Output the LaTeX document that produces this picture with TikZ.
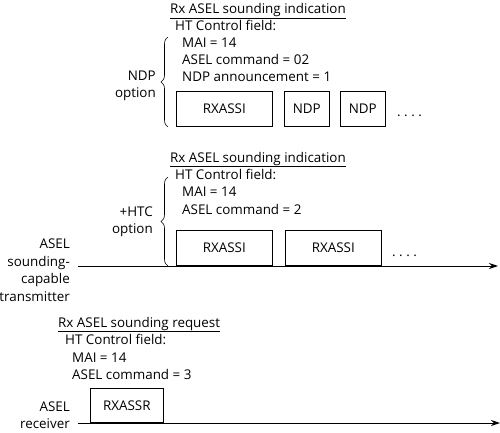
\documentclass[tikz,border=0pt]{standalone}
\usepackage{fontspec}
\setmainfont{Open Sans}
\usetikzlibrary{decorations.pathreplacing,arrows.meta}

\begin{document}
\begin{tikzpicture}[x=1pt,y=-1pt,font=\fontsize{13.4}{17.5}\selectfont,
  frame/.style={draw,line width=0.6pt,minimum height=35pt,inner sep=0pt,anchor=south west},
  txt/.style={anchor=base west,inner sep=0pt},
  lbl/.style={align=right,anchor=east,inner sep=0pt},
  curly/.style={decorate,line width=0.6pt,decoration={brace,amplitude=7pt}},
  axis/.style={line width=1pt,-{Stealth[length=9pt,width=6pt]}}]
			%%%%% START %%%%%
			\useasboundingbox (0,0) rectangle (500,433);
			
			% NDP option
			\node[txt] (ndpTitle) at (170, 14) {\underline{Rx ASEL sounding indication}};
			\node[txt] (ndpHt) at (175, 31) {HT Control field:};
			\node[txt] (ndpMai) at (182, 48) {MAI = 14};
			\node[txt] (ndpCmd) at (182, 65) {ASEL command = 02};
			\node[txt] (ndpAnn) at (182, 82) {NDP announcement = 1};
			\draw[curly] (168, 127) -- (168, 37);
			\node[lbl] (ndpOpt) at (156, 86) {NDP\\option};
			
			\node[frame, minimum width=96pt] (ndpSsi) at (176, 127) {RXASSI};
			\node[frame, minimum width=45pt] (ndpA) at (284, 127) {NDP};
			\node[frame, minimum width=45pt] (ndpB) at (340, 127) {NDP};
			\node[txt] (ndpDots) at (397, 117) {.\ .\ .\ .};
			
			% +HTC option
			\node[txt] (htcTitle) at (170, 162) {\underline{Rx ASEL sounding indication}};
			\node[txt] (htcHt) at (175, 179) {HT Control field:};
			\node[txt] (htcMai) at (182, 196) {MAI = 14};
			\node[txt] (htcCmd) at (182, 214) {ASEL command = 2};
			\draw[curly] (168, 266) -- (168, 177);
			\node[lbl] (htcOpt) at (153, 222) {+HTC\\option};
			
			\node[frame, minimum width=96pt] (htcSsiA) at (176, 266) {RXASSI};
			\node[frame, minimum width=96pt] (htcSsiB) at (285, 266) {RXASSI};
			\node[txt] (htcDots) at (392, 256) {.\ .\ .\ .};
			
			\node[lbl] (tx) at (70, 270) {ASEL\\sounding-\\capable\\transmitter};
			\coordinate (txStart) at (78, 266);
			\coordinate (txEnd) at (498, 266);
			\draw[axis] (txStart) -- (txEnd);
			
			% receiver
			\node[txt] (rxTitle) at (58, 327) {\underline{Rx ASEL sounding request}};
			\node[txt] (rxHt) at (65, 344) {HT Control field:};
			\node[txt] (rxMai) at (72, 362) {MAI = 14};
			\node[txt] (rxCmd) at (72, 379) {ASEL command = 3};
			
			\node[frame, minimum width=73pt, minimum height=34pt] (rxSsr) at (90, 423) {RXASSR};
			
			\node[lbl] (rx) at (70, 415) {ASEL\\receiver};
			\coordinate (rxStart) at (78, 423);
			\coordinate (rxEnd) at (500, 423);
			\draw[axis] (rxStart) -- (rxEnd);
			
			%%%%% END %%%%%
\end{tikzpicture}
\end{document}
